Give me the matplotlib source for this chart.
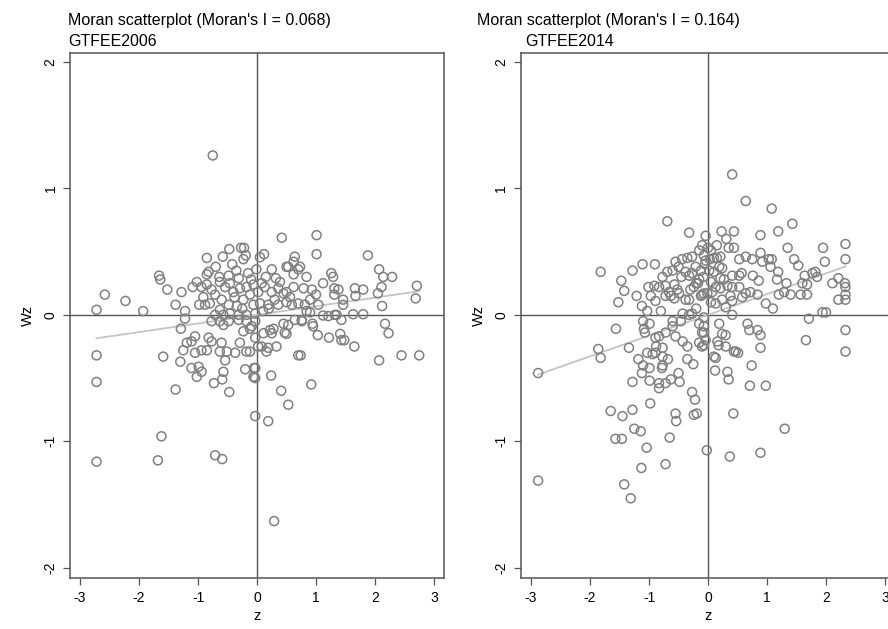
import matplotlib
matplotlib.use("Agg")
import matplotlib.pyplot as plt
import numpy as np

plt.rcParams['font.family'] = ['Liberation Sans', 'DejaVu Sans']

years = ["GTFEE2006", "GTFEE2014"]
moran_i = [0.068, 0.164]

# 2006 panel: standardized value z and spatial lag Wz
z2006 = [
    -0.75, -2.72, -2.72, -2.72, -1.59, -1.62, -1.68, -1.38, -0.71, -0.59, -0.03, -1.29, -0.73, -0.59, -0.47, -0.20,
    -2.72, -2.58, -2.23, -1.93, -1.66, -1.64, -1.52, -1.38, -1.28, -1.22, -1.22, -0.85, -0.58, -0.47, -0.27, -0.22, -0.23, -0.19,
    0.05, 0.12, -0.82, -0.64, -0.48, -0.31, -0.15, -0.01, 0.25, 0.32, 0.39, 0.50, 0.42,
    -1.09, -1.02, -0.94, -0.85, -0.77, -0.91, -0.98, -0.88, -0.80, -0.71, -0.63, -0.54, -0.46, -0.40, -0.29, -0.18, -0.06,
    -0.12, 0.02, 0.13, 0.25, 0.36, 0.45, 0.50, 0.36, 0.19, 0.05, -0.06, -0.23, -0.34, -0.48, -0.60, -0.63, -0.71, -0.57,
    -0.46, -0.31, -0.18, -0.03, -0.77, -0.63, -0.48, -0.31, -0.18, -0.03, -0.57,
    -1.05, -1.19, -1.25, -1.11, -1.05, -0.94, -0.82, -0.77, -0.60, -0.63, -0.51, -0.54, -0.57, -1.30, -1.11, -0.99, -1.02,
    -0.94, -0.85, -0.29, -0.23, -0.12, -0.18, -0.03, -0.03, -0.06, -0.03, -0.37,
    2.17, 2.23, 2.45, 2.75, 2.07, 1.65, 1.41, 1.43, 1.48, 1.22, 1.03, 0.95, 0.94, 0.76, 0.70, 0.74, 0.92, 0.41, 0.53, 0.24,
    0.19, -0.05, -0.05, 0.33, 0.19, 0.16, 0.08, 0.02, 0.11, 0.22, 0.28, 0.25, 0.45, 0.47, -0.12, -0.09, 0.29,
    1.01, 1.01, 1.88, 2.07, 2.14, 2.29, 2.71, 2.69, 2.11, 2.05, 2.12,
    1.26, 1.29, 1.12, 1.31, 1.38, 1.31, 1.46, 1.46, 1.66, 1.80, 1.67, 1.63, 1.80, 1.32, 1.35, 1.12, 1.43, 1.21,
    0.64, 0.62, 0.73, 0.84, 0.53, 0.62, 0.70, 0.79, 0.93, 1.00, 0.62, 0.50, 0.56, 0.59, 0.70, 0.81, 0.90, 1.04, 0.84,
    0.76, 0.64, 0.53, 0.50, 0.90,
    0.15, 0.08, -0.35, -0.42, -0.10, 0.30, -0.25, 0.10, -0.85, -0.70, -0.38, 0.20,
]
wz2006 = [
    1.26, -0.32, -0.53, -1.16, -0.33, -0.96, -1.15, -0.59, -1.11, -1.14, -0.80, -0.11, -0.54, -0.51, -0.61, -0.43,
    0.04, 0.16, 0.11, 0.03, 0.31, 0.28, 0.20, 0.08, 0.18, 0.03, -0.03, 0.45, 0.46, 0.52, 0.53, 0.53, 0.44, 0.47,
    0.455, 0.48, 0.34, 0.30, 0.31, 0.29, 0.33, 0.36, 0.36, 0.29, 0.26, 0.38, 0.61,
    0.22, 0.26, 0.22, 0.24, 0.20, 0.14, 0.08, 0.08, 0.09, 0.16, 0.26, 0.22, 0.25, 0.18, 0.21, 0.22, 0.24,
    0.16, 0.18, 0.22, 0.18, 0.21, 0.17, 0.10, 0.08, 0.08, 0.09, 0.08, 0.12, 0.07, 0.08, 0.12, 0.04, 0.00, 0.00,
    0.01, 0.00, 0.00, 0.01, -0.05, -0.05, -0.05, -0.04, -0.05, -0.05, -0.08,
    -0.17, -0.22, -0.28, -0.21, -0.30, -0.28, -0.18, -0.21, -0.22, -0.29, -0.29, -0.36, -0.45, -0.37, -0.42, -0.41, -0.49,
    -0.45, -0.28, -0.22, -0.13, -0.11, -0.29, -0.18, -0.42, -0.49, -0.50, -0.30,
    -0.07, -0.145, -0.32, -0.32, -0.36, -0.25, -0.15, -0.20, -0.20, -0.18, -0.16, -0.09, -0.07, -0.05, -0.32, -0.32, -0.55, -0.60, -0.71, -0.48,
    -0.84, -0.42, -0.49, -0.25, -0.26, -0.29, -0.25, -0.25, -0.145, -0.12, -0.11, -0.145, -0.07, -0.14, -0.29, -0.09, -1.63,
    0.63, 0.48, 0.47, 0.36, 0.30, 0.30, 0.23, 0.13, 0.22, 0.17, 0.07,
    0.33, 0.30, 0.25, 0.21, 0.20, 0.16, 0.12, 0.08, 0.21, 0.20, 0.15, 0.005, 0.005, 0.00, 0.00, -0.005, -0.04, -0.01,
    0.46, 0.42, 0.38, 0.30, 0.38, 0.32, 0.36, 0.21, 0.20, 0.16, 0.22, 0.18, 0.14, 0.08, 0.09, 0.08, 0.12, 0.08, 0.03,
    -0.04, -0.04, -0.08, -0.15, 0.02,
    0.30, 0.25, 0.35, 0.40, 0.28, 0.12, 0.05, 0.03, 0.32, 0.38, 0.14, 0.05,
]

# 2014 panel
z2014 = [
    -0.69, -0.32, -0.04, -1.82, -1.28, -1.11, -0.90, -1.47, -1.42, -1.52, -1.21, -1.12, -1.03, -0.80, -1.56,
    -1.085, -1.07, -1.10, -0.99, -1.01, -0.91, -0.83, -0.77, -0.72, -0.66, -0.57, -0.52, -0.69, -0.55, -0.44, -0.35,
    -0.27, -0.15, -0.07, -0.38, -0.32, -0.27, -0.21, -0.12, -0.04, -0.97, -0.89, -0.72, -0.63, -0.57, -0.49, -0.38,
    -0.32, -0.24, -0.12, -0.07, -0.43, -0.32, -0.27, -0.15, -0.07, -0.60, -0.46, -0.89, -0.83, -0.72, -0.60, -0.55,
    -0.07,
    -2.88, -2.88, -1.86, -1.82, -1.34, -1.18, -1.10, -1.12, -0.99, -1.03, -0.94, -0.89, -0.88, -0.77, -0.77, -0.68,
    -0.77, -0.78, -0.50, -0.63, -0.72, -0.83, -0.83, -0.99, -1.28, -0.48, -0.35, -0.35, -0.25, -0.15, -0.07, -0.27,
    -0.22, -0.98, -1.65, -1.45, -1.28, -0.55, -0.54, -0.24, -0.19, -1.25, -1.14, -1.57, -1.46, -0.65, -1.04, -1.13,
    -0.72, -1.42, -1.31, -0.02, 0.37, 0.89, 1.30, 0.43, 0.13, 0.12, 0.33, 0.35, 0.47, 0.51, 0.74, 0.71, 0.98, 0.89,
    0.18, 0.30, -0.43,
    0.41, 0.64, 1.08, 1.43, 1.19, 0.89, 0.44, 0.23, 0.31, 0.35, 0.44, 0.00, 0.05, 0.21, 0.10, 0.53, 0.64, 0.75, 0.89,
    0.92, 1.03, 1.08, 1.06, 1.35, 1.46, 1.53, 1.95, 1.98, 2.33, 2.33, 1.64, 1.77, 1.82, 1.85, 2.11, 2.21, 2.32, 2.33,
    2.21, 2.33, 2.33, 1.19, 1.17, 1.33, 1.60, 1.68, 1.57, 1.68, 1.40, 1.29, 1.20, 0.98, 1.10, 0.84, 0.72, 0.64, 0.58,
    0.76, 0.86, 0.53, 0.57, 0.41, 0.53, 0.41, 0.33, 0.19, 0.24, 0.10, 0.21, 0.27, 0.05, 0.13, 0.21, 0.07, -0.01, -0.10,
    0.38, 0.41, 0.24, 0.13, 0.30, 0.41, 1.71, 1.94, 2.00, 2.33, 2.33, 1.66, 0.19, 0.67, 0.70, 0.84, 0.89, 0.24, 0.30,
    0.16, 0.44, -0.07, -0.10, -0.04, -0.10, 0.10,
    -0.10, -0.05, 0.02, -0.08, 0.03, -0.17,
    -0.20, -0.30, 0.15, -0.45, -0.60, 0.05, -0.20, 0.15, -0.50, -0.15,
]
wz2014 = [
    0.74, 0.65, 0.625, 0.34, 0.35, 0.40, 0.40, 0.27, 0.19, 0.10, 0.15, 0.07, 0.03, 0.03, -0.11,
    -0.11, -0.14, -0.05, -0.07, 0.22, 0.23, 0.22, 0.30, 0.23, 0.18, 0.24, 0.20, 0.34, 0.42, 0.44, 0.45,
    0.46, 0.51, 0.47, 0.34, 0.31, 0.33, 0.38, 0.35, 0.43, 0.15, 0.11, 0.15, 0.15, 0.13, 0.17, 0.12,
    0.12, 0.22, 0.15, 0.17, 0.01, 0.00, 0.01, -0.07, -0.02, -0.05, -0.05, -0.18, -0.17, -0.14, -0.09, -0.17,
    -0.14,
    -0.46, -1.31, -0.27, -0.34, -0.26, -0.35, -0.40, -0.46, -0.42, -0.30, -0.31, -0.30, -0.25, -0.26, -0.33, -0.35,
    -0.40, -0.42, -0.46, -0.51, -0.54, -0.54, -0.58, -0.52, -0.53, -0.53, -0.35, -0.25, -0.39, -0.22, -0.24, -0.61,
    -0.67, -0.70, -0.76, -0.80, -0.75, -0.78, -0.84, -0.79, -0.78, -0.90, -0.92, -0.98, -0.98, -0.97, -1.05, -1.21,
    -1.18, -1.34, -1.45, -1.07, -1.12, -1.09, -0.90, -0.78, -0.34, -0.44, -0.45, -0.51, -0.29, -0.30, -0.40, -0.56, -0.56, -0.26,
    -0.24, -0.25, -0.21,
    1.11, 0.90, 0.84, 0.72, 0.66, 0.63, 0.66, 0.66, 0.60, 0.53, 0.53, 0.53, 0.51, 0.46, 0.45, 0.44, 0.46, 0.44, 0.49,
    0.42, 0.44, 0.44, 0.38, 0.53, 0.44, 0.39, 0.53, 0.42, 0.56, 0.44, 0.31, 0.33, 0.34, 0.30, 0.25, 0.29, 0.25, 0.22,
    0.12, 0.16, 0.12, 0.34, 0.28, 0.25, 0.25, 0.24, 0.16, 0.16, 0.16, 0.18, 0.16, 0.09, 0.05, 0.16, 0.18, 0.17, 0.14,
    0.31, 0.27, 0.31, 0.33, 0.31, 0.22, 0.22, 0.23, 0.38, 0.37, 0.34, 0.29, 0.28, 0.26, 0.22, 0.21, 0.18, 0.17, 0.16,
    0.15, 0.11, 0.12, 0.09, 0.06, 0.00, -0.03, 0.02, 0.02, -0.12, -0.29, -0.20, -0.07, -0.07, -0.12, -0.12, -0.16, -0.15, -0.16,
    -0.21, -0.29, -0.09, -0.14, -0.20, -0.25, -0.33,
    0.55, 0.40, 0.35, 0.30, 0.44, 0.25,
    0.25, 0.20, 0.45, 0.30, 0.35, 0.10, 0.05, 0.55, 0.38, 0.28,
]

panels = [(z2006, wz2006), (z2014, wz2014)]
W, H = 888, 629
fig = plt.figure(figsize=(W / 100, H / 100), dpi=100)

ax_left_px = [70, 521]
ax_w_px, ax_top_px, ax_bot_px = 374, 53, 578
title_px = [(68, 68), (477, 525)]
grey = '#808080'
dark = '#555555'

for k, (z, wz) in enumerate(panels):
    ax = fig.add_axes([ax_left_px[k] / W, (H - ax_bot_px) / H, ax_w_px / W, (ax_bot_px - ax_top_px) / H])
    ax.axhline(0, color=dark, lw=1.0, zorder=1)
    ax.axvline(0, color=dark, lw=1.0, zorder=1)
    xs = np.array([min(z), max(z)])
    ax.plot(xs, moran_i[k] * xs, color='#c4c4c4', lw=1.3, zorder=2)
    ax.scatter(z, wz, s=42, facecolors='none', edgecolors=grey, linewidths=1.1, zorder=3)
    ax.set_xlim(-3.17, 3.17)
    ax.set_ylim(-2.08, 2.07)
    ax.set_xticks([-3, -2, -1, 0, 1, 2, 3])
    ax.set_yticks([-2, -1, 0, 1, 2])
    ax.set_yticklabels(['-2', '-1', '0', '1', '2'], rotation=90, va='center')
    ax.set_xticklabels(['-3', '-2', '-1', '0', '1', '2', '3'])
    ax.tick_params(length=5, width=0.9, color=dark, labelsize=10, pad=4)
    for sp in ax.spines.values():
        sp.set_color(dark)
        sp.set_linewidth(1.1)
    ax.set_xlabel('z', fontsize=10.5, labelpad=3)
    ax.set_ylabel('Wz', fontsize=10.5, labelpad=6)
    t1x, t2x = title_px[k]
    fig.text(t1x / W, 1 - 20 / H, "Moran scatterplot (Moran's I = %.3f)" % moran_i[k],
             fontsize=11.5, va='center', ha='left')
    fig.text(t2x / W, 1 - 41 / H, years[k], fontsize=11.5, va='center', ha='left')

fig.savefig('out.png', dpi=100)
